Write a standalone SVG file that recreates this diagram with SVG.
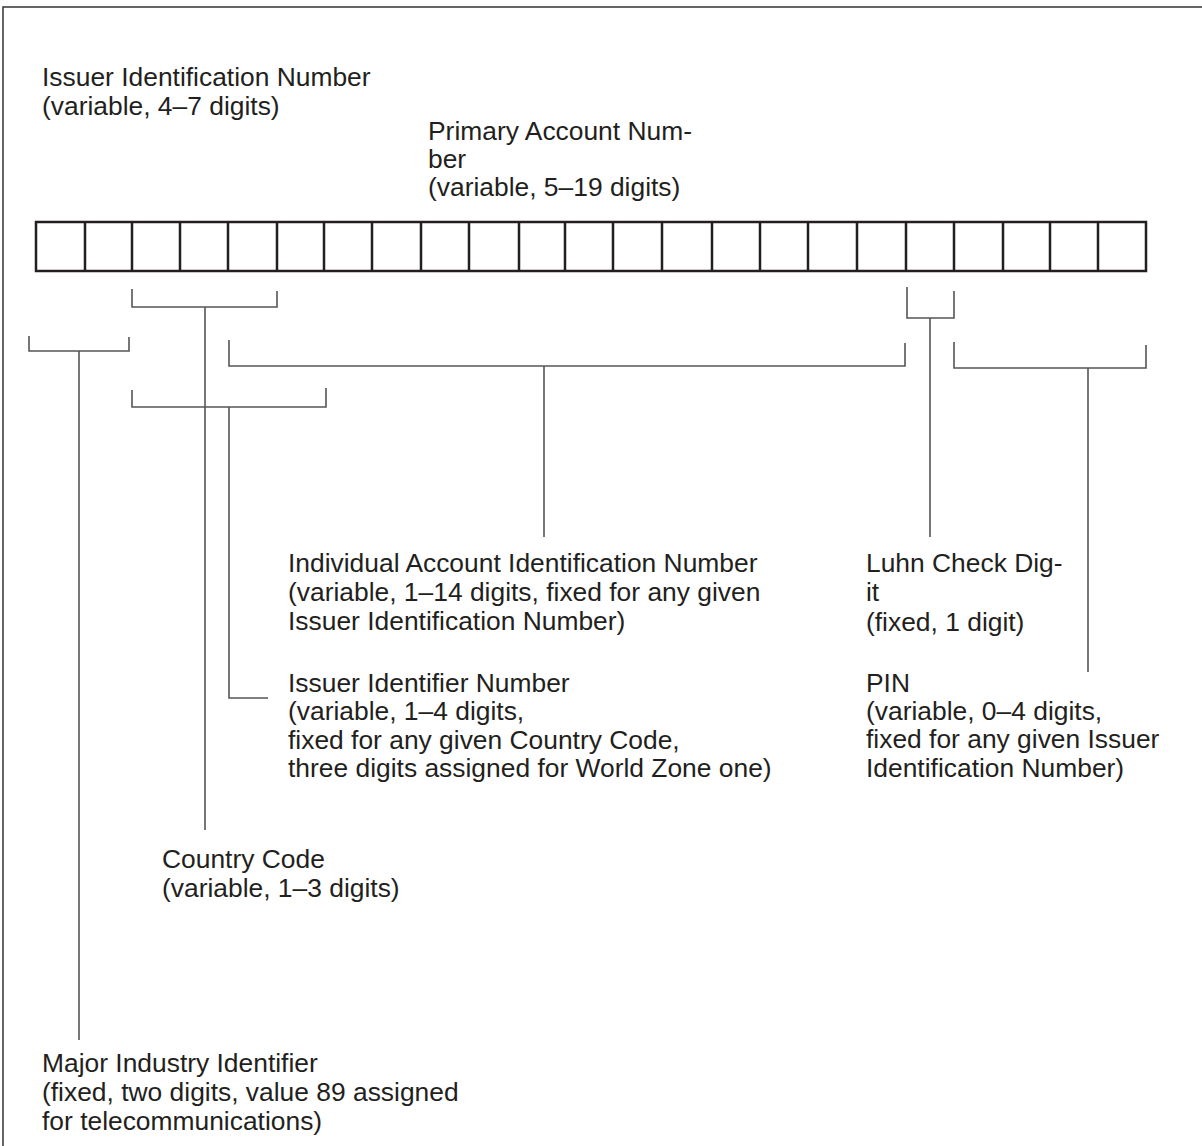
<svg xmlns="http://www.w3.org/2000/svg" width="1202" height="1146" viewBox="0 0 1202 1146">
<style>
.t{font-family:"Liberation Sans",Arial,sans-serif;font-size:26.4px;fill:#231f20}
.box{fill:none;stroke:#231f20;stroke-width:2.5}
.br{fill:none;stroke:#555;stroke-width:1.6}
.frame{fill:none;stroke:#333;stroke-width:1.5}
</style>
<rect width="1202" height="1146" fill="#fff"/>
<path class="frame" d="M3 1146 V7 H1202"/>
<g id="cells">
<rect class="box" x="36" y="222" width="1110" height="49"/>
<path class="box" d="M85 222V271M132 222V271M180 222V271M228 222V271M277 222V271M324 222V271M372 222V271M421 222V271M469 222V271M519 222V271M565 222V271M613 222V271M662 222V271M712 222V271M760 222V271M808 222V271M857 222V271M906 222V271M954 222V271M1003 222V271M1050 222V271M1098 222V271"/>
</g>
<g id="connectors">
<path class="br" d="M132 289V307H277V291M205 307V830"/>
<path class="br" d="M29 336V351H129V337M79 351V1040"/>
<path class="br" d="M229 340V366H905V343M544 366V537"/>
<path class="br" d="M132 390V407H326V388M229 407V698H268"/>
<path class="br" d="M907 287V318H954V291M930 318V537"/>
<path class="br" d="M954 342V368H1146V345M1088 368V672"/>
</g>
<g id="iin"><text class="t" x="42" y="86">Issuer Identification Number</text><text class="t" x="42" y="115">(variable, 4–7 digits)</text></g>
<g id="pan"><text class="t" x="428" y="140">Primary Account Num-</text><text class="t" x="428" y="168">ber</text><text class="t" x="428" y="196">(variable, 5–19 digits)</text></g>
<g id="iain"><text class="t" x="288" y="572">Individual Account Identification Number</text><text class="t" x="288" y="601">(variable, 1–14 digits, fixed for any given</text><text class="t" x="288" y="630">Issuer Identification Number)</text></g>
<g id="luhn"><text class="t" x="866" y="572">Luhn Check Dig-</text><text class="t" x="866" y="601">it</text><text class="t" x="866" y="631">(fixed, 1 digit)</text></g>
<g id="issuer"><text class="t" x="288" y="692">Issuer Identifier Number</text><text class="t" x="288" y="720">(variable, 1–4 digits,</text><text class="t" x="288" y="749">fixed for any given Country Code,</text><text class="t" x="288" y="777">three digits assigned for World Zone one)</text></g>
<g id="pin"><text class="t" x="866" y="692">PIN</text><text class="t" x="866" y="720">(variable, 0–4 digits,</text><text class="t" x="866" y="748">fixed for any given Issuer</text><text class="t" x="866" y="777">Identification Number)</text></g>
<g id="cc"><text class="t" x="162" y="868">Country Code</text><text class="t" x="162" y="897">(variable, 1–3 digits)</text></g>
<g id="mii"><text class="t" x="42" y="1072">Major Industry Identifier</text><text class="t" x="42" y="1101">(fixed, two digits, value 89 assigned</text><text class="t" x="42" y="1130">for telecommunications)</text></g>
</svg>
